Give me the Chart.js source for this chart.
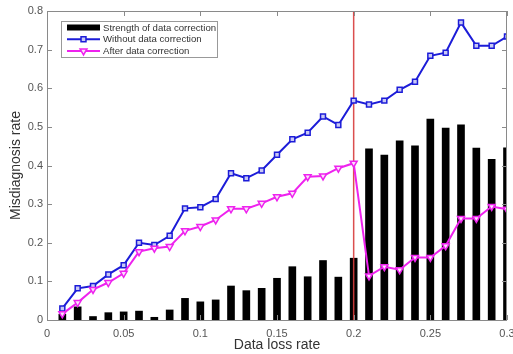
<!DOCTYPE html>
<html>
<head>
<meta charset="utf-8">
<script src="https://cdn.jsdelivr.net/npm/chart.js@4/dist/chart.umd.min.js"></script>
<style>
  html, body { margin: 0; padding: 0; background: #fff; }
  canvas { display: block; }
</style>
</head>
<body>
<canvas id="chart" width="513" height="354"></canvas>
<script>
// data
const lossRate = [0.01, 0.02, 0.03, 0.04, 0.05, 0.06, 0.07, 0.08, 0.09, 0.10,
                  0.11, 0.12, 0.13, 0.14, 0.15, 0.16, 0.17, 0.18, 0.19, 0.20,
                  0.21, 0.22, 0.23, 0.24, 0.25, 0.26, 0.27, 0.28, 0.29, 0.30];
const strength = [0.015, 0.034, 0.009, 0.019, 0.021, 0.023, 0.007, 0.026, 0.056, 0.047,
                  0.052, 0.088, 0.076, 0.082, 0.108, 0.138, 0.112, 0.154, 0.111, 0.160,
                  0.443, 0.427, 0.464, 0.451, 0.520, 0.497, 0.505, 0.445, 0.416, 0.446];
const withoutCorr = [0.030, 0.082, 0.088, 0.118, 0.142, 0.200, 0.194, 0.218, 0.289, 0.292,
                     0.313, 0.380, 0.367, 0.387, 0.428, 0.468, 0.485, 0.527, 0.505, 0.568,
                     0.558, 0.568, 0.596, 0.617, 0.684, 0.692, 0.770, 0.710, 0.710, 0.734];
const afterCorr = [0.016, 0.045, 0.079, 0.097, 0.121, 0.177, 0.186, 0.190, 0.231, 0.242,
                   0.259, 0.288, 0.288, 0.302, 0.319, 0.328, 0.371, 0.373, 0.393, 0.406,
                   0.114, 0.138, 0.130, 0.162, 0.162, 0.192, 0.263, 0.263, 0.294, 0.287];
const splitRate = 0.2;
const xTicks = [0, 0.05, 0.1, 0.15, 0.2, 0.25, 0.3];
const yTicks = [0, 0.1, 0.2, 0.3, 0.4, 0.5, 0.6, 0.7, 0.8];

const pts = arr => arr.map((v, i) => ({ x: lossRate[i], y: v }));

// inward ticks + box, MATLAB style
const frame = {
  id: 'frame',
  afterDraw(chart) {
    const { ctx, chartArea: a, scales } = chart;
    ctx.save();
    ctx.strokeStyle = '#8a8a8a';
    ctx.lineWidth = 1;
    scales.x.ticks.forEach(t => {
      const px = Math.round(scales.x.getPixelForValue(t.value)) + 0.5;
      ctx.beginPath();
      ctx.moveTo(px, a.bottom); ctx.lineTo(px, a.bottom - 5);
      ctx.moveTo(px, a.top); ctx.lineTo(px, a.top + 5);
      ctx.stroke();
    });
    scales.y.ticks.forEach(t => {
      const py = Math.round(scales.y.getPixelForValue(t.value)) + 0.5;
      ctx.beginPath();
      ctx.moveTo(a.left, py); ctx.lineTo(a.left + 5, py);
      ctx.moveTo(a.right, py); ctx.lineTo(a.right - 5, py);
      ctx.stroke();
    });
    ctx.strokeRect(a.left + 0.5, a.top + 0.5, a.right - a.left - 1, a.bottom - a.top);
    ctx.restore();
  }
};

// legend box inside the plot, top left
const boxLegend = {
  id: 'boxLegend',
  afterDraw(chart) {
    const ctx = chart.ctx;
    const x0 = 61, y0 = 21, w = 156, h = 36;
    ctx.save();
    ctx.fillStyle = '#fff';
    ctx.fillRect(x0, y0, w, h);
    ctx.strokeStyle = '#999';
    ctx.lineWidth = 1;
    ctx.strokeRect(x0 + 0.5, y0 + 0.5, w, h);
    const rows = [0, 1, 2];
    rows.forEach(i => {
      const ds = chart.data.datasets[i];
      const y = 27.5 + i * 11.7;
      if (ds.type === 'bar') {
        ctx.fillStyle = '#000';
        ctx.fillRect(67, y - 3, 33, 6);
      } else {
        ctx.strokeStyle = ds.borderColor;
        ctx.lineWidth = 2;
        ctx.beginPath();
        ctx.moveTo(67, y); ctx.lineTo(100, y);
        ctx.stroke();
        ctx.fillStyle = ds.pointBackgroundColor;
        ctx.lineWidth = 1.5;
        Chart.helpers.drawPoint(ctx, {
          pointStyle: ds.pointStyle, radius: ds.pointRadius,
          borderWidth: 1.5, rotation: ds.pointRotation || 0
        }, 83.5, y);
      }
      ctx.fillStyle = '#333';
      ctx.font = '9.6px "Liberation Sans", Arial, sans-serif';
      ctx.textBaseline = 'middle';
      ctx.fillText(ds.label, 103, y + 0.5);
    });
    ctx.restore();
  }
};

const tickFont = { family: '"Liberation Sans", Arial, sans-serif', size: 11 };
const titleFont = { family: '"Liberation Sans", Arial, sans-serif', size: 14 };

new Chart(document.getElementById('chart'), {
  type: 'line',
  data: {
    datasets: [
      {
        type: 'bar',
        label: 'Strength of data correction',
        data: pts(strength),
        backgroundColor: '#000',
        barThickness: 7,
        order: 3
      },
      {
        type: 'line',
        label: 'Without data correction',
        data: pts(withoutCorr),
        borderColor: '#1c1cd8',
        borderWidth: 2,
        pointStyle: 'rect',
        pointRadius: 3.5,
        pointBorderWidth: 1.5,
        pointBackgroundColor: '#c8c8f4',
        pointBorderColor: '#1c1cd8',
        order: 1
      },
      {
        type: 'line',
        label: 'After data correction',
        data: pts(afterCorr),
        borderColor: '#ee22ee',
        borderWidth: 2,
        pointStyle: 'triangle',
        pointRotation: 180,
        pointRadius: 4,
        pointBorderWidth: 1.5,
        pointBackgroundColor: '#fbe0fb',
        pointBorderColor: '#ee22ee',
        order: 0
      },
      {
        type: 'line',
        label: 'split',
        data: [{ x: splitRate, y: 0 }, { x: splitRate, y: 0.8 }],
        borderColor: 'rgba(215,60,60,0.9)',
        borderWidth: 1.5,
        pointRadius: 0,
        order: 2
      }
    ]
  },
  options: {
    responsive: false,
    animation: false,
    layout: { padding: { top: 11, right: 6, left: 0, bottom: 0 } },
    plugins: {
      legend: { display: false },
      tooltip: { enabled: false }
    },
    scales: {
      x: {
        type: 'linear',
        min: 0, max: 0.3,
        offset: false,
        grid: { display: false, drawTicks: false, offset: false },
        border: { display: false },
        afterBuildTicks: s => { s.ticks = xTicks.map(v => ({ value: v })); },
        afterFit: s => { s.height = 34; s.paddingLeft = 0; s.paddingRight = 0; },
        ticks: { font: tickFont, color: '#555', padding: 7, maxRotation: 0,
                 callback: v => String(v) },
        title: { display: true, text: 'Data loss rate', font: titleFont, color: '#333',
                 padding: { top: 0, bottom: 0 } }
      },
      y: {
        min: 0, max: 0.8,
        grid: { display: false, drawTicks: false },
        border: { display: false },
        afterBuildTicks: s => { s.ticks = yTicks.map(v => ({ value: v })); },
        afterFit: s => { s.width = 47; s.paddingTop = 0; s.paddingBottom = 0; },
        ticks: { font: tickFont, color: '#555', padding: 4,
                 callback: v => String(v) },
        title: { display: true, text: 'Misdiagnosis rate', font: titleFont, color: '#333',
                 padding: { top: 8, bottom: 0 } }
      }
    }
  },
  plugins: [frame, boxLegend]
});
</script>
</body>
</html>
